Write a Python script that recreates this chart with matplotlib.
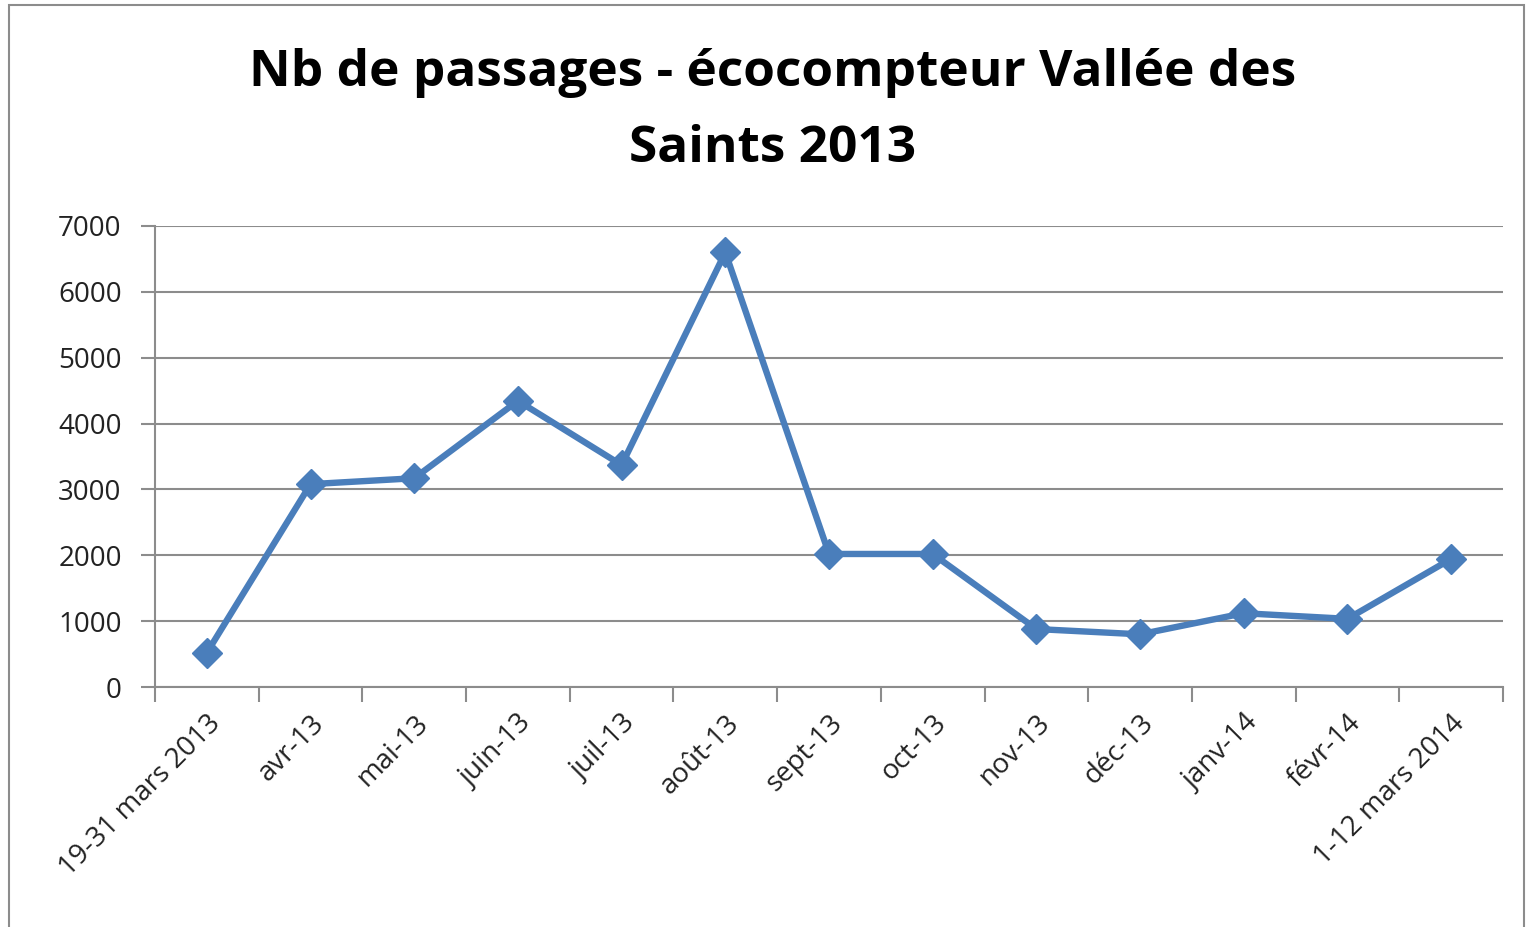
import matplotlib
matplotlib.use("Agg")
import matplotlib.pyplot as plt
from matplotlib.patches import Rectangle
from matplotlib.ticker import FixedLocator, NullFormatter

categories = ["19-31 mars 2013", "avr-13", "mai-13", "juin-13", "juil-13", "août-13",
              "sept-13", "oct-13", "nov-13", "déc-13", "janv-14", "févr-14", "1-12 mars 2014"]
values = [520, 3080, 3170, 4345, 3370, 6600, 2020, 2020, 880, 800, 1120, 1035, 1945]
yticks = [0, 1000, 2000, 3000, 4000, 5000, 6000, 7000]

plt.rcParams['font.family'] = ['Open Sans', 'DejaVu Sans']

fig = plt.figure(figsize=(15.34, 9.27), dpi=100)
fig.patches.append(Rectangle((9/1534, -0.01), (1524-9)/1534, (1 - 5/927) + 0.01,
                             transform=fig.transFigure, fill=False,
                             edgecolor='#8c8c8c', linewidth=1.5))

ax = fig.add_axes([155/1534, 1 - 687/927, (1503-155)/1534, (687-226)/927])
x = list(range(len(categories)))
ax.plot(x, values, color='#4A7EBB', linewidth=4.6, marker='D', markersize=15,
        markeredgecolor='#4A7EBB', markerfacecolor='#4A7EBB', solid_joinstyle='miter')

ax.set_xlim(-0.5, len(categories) - 0.5)
ax.set_ylim(0, 7000)
ax.set_yticks(yticks)
ax.set_yticklabels([str(v) for v in yticks])
ax.yaxis.grid(True, color='#8c8c8c', linewidth=1.5)
ax.set_axisbelow(True)

ax.set_xticks(x)
ax.set_xticklabels(categories, rotation=45, ha='right', va='top', rotation_mode='anchor')
ax.xaxis.set_minor_locator(FixedLocator([i - 0.5 for i in range(len(categories) + 1)]))
ax.xaxis.set_minor_formatter(NullFormatter())
ax.tick_params(axis='x', which='major', length=0, pad=16, labelsize=20, labelcolor='#222222')
ax.tick_params(axis='x', which='minor', length=11, width=1.5, color='#8c8c8c', direction='out')
ax.tick_params(axis='y', length=10, width=1.5, color='#8c8c8c', direction='out', pad=14,
               labelsize=20, labelcolor='#222222')

for s in ['top', 'right']:
    ax.spines[s].set_visible(False)
for s in ['left', 'bottom']:
    ax.spines[s].set_color('#8c8c8c')
    ax.spines[s].set_linewidth(1.5)

fig.text(773/1534, 1 - 111/927, "Nb de passages - écocompteur Vallée des\nSaints 2013",
         ha='center', va='center', fontsize=37, fontweight='bold', color='black',
         linespacing=1.7)

fig.savefig("out.png", dpi=100)
